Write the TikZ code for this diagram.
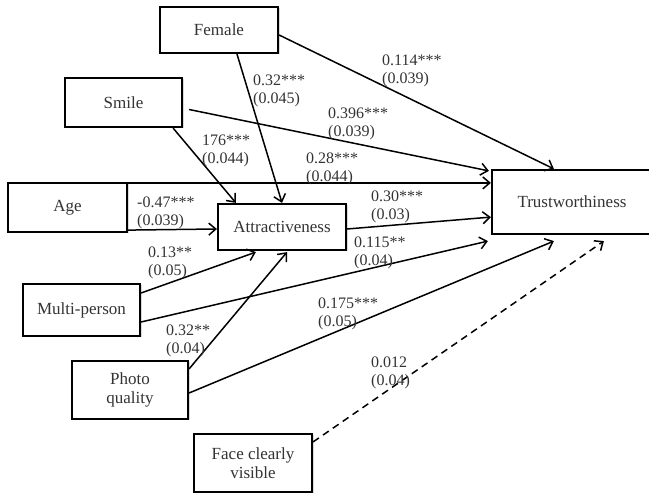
\documentclass[tikz,border=0pt]{standalone}
\usepackage{fontspec}
\setmainfont{Liberation Serif}
\usetikzlibrary{arrows.meta,shadows}
\begin{document}
\begin{tikzpicture}[x=1pt,y=-1pt,
    box/.style={draw,line width=2.2pt,fill=white,inner sep=0pt,align=center,
        text=black!80,font=\fontsize{17}{19.5}\selectfont,
        drop shadow={shadow xshift=1.5pt,shadow yshift=-1.5pt,opacity=0.3}},
    coef/.style={anchor=north west,inner sep=0pt,align=left,text=black!80,
        font=\fontsize{16}{18}\selectfont},
    effect/.style={-{Straight Barb[length=7pt,width=12pt]},line width=1.5pt}]
    \useasboundingbox (0,0) rectangle (649,494);
    % variables
    \node[box,minimum width=118pt,minimum height=46pt] (female) at (219,30) {Female};
    \node[box,minimum width=117pt,minimum height=49pt] (smile) at (123.5,102.5) {Smile};
    \node[box,minimum width=119pt,minimum height=49pt] (age) at (67.5,207.5) {Age};
    \node[box,minimum width=128pt,minimum height=46pt] (attr) at (282,227) {Attractiveness};
    \node[box,minimum width=160pt,minimum height=64pt] (trust) at (572,202) {Trustworthiness};
    \node[box,minimum width=117pt,minimum height=52pt] (multi) at (81.5,310) {Multi-person};
    \node[box,minimum width=116pt,minimum height=58pt] (photo) at (130,390) {Photo\\quality};
    \node[box,minimum width=118pt,minimum height=58pt] (face) at (253,463) {Face clearly\\visible};
    % paths to attractiveness
    \draw[effect] ([xshift=18pt]female.south) -- (attr.north);
    \draw[effect] ([xshift=-10pt]smile.south east) -- ([xshift=19pt]attr.north west);
    \draw[effect] ([yshift=3pt]age.south east) -- ([yshift=-2pt]attr.west);
    \draw[effect] ([yshift=17pt]multi.east) -- ([xshift=39pt,yshift=-1pt]attr.south west);
    \draw[effect] ([yshift=-9pt]photo.north east) -- ([xshift=5pt,yshift=-1pt]attr.south);
    % paths to trustworthiness
    \draw[effect] ([yshift=-5pt]female.east) -- ([xshift=63pt]trust.north west);
    \draw[effect] ([xshift=6pt,yshift=-7pt]smile.east) -- ([xshift=-2pt,yshift=-2pt]trust.north west);
    \draw[effect] ([yshift=-1pt]age.north east) -- ([yshift=-14pt]trust.north west);
    \draw[effect] ([yshift=-2pt]attr.east) -- ([yshift=18pt]trust.south west);
    \draw[effect] ([yshift=-12pt]multi.east) -- ([xshift=-3pt,yshift=-6pt]trust.south west);
    \draw[effect] ([yshift=-3pt]photo.east) -- ([xshift=63pt,yshift=-6pt]trust.south west);
    \draw[effect,dash pattern=on 7pt off 5pt] ([yshift=-9pt]face.north east) -- ([xshift=113pt,yshift=-6pt]trust.south west);
    % coefficients
    \node[coef] (cFT) at (382,55) {0.114***\\(0.039)};
    \node[coef] (cFA) at (253,75) {0.32***\\(0.045)};
    \node[coef] (cST) at (328,108) {0.396***\\(0.039)};
    \node[coef] (cSA) at (202,135) {176***\\(0.044)};
    \node[coef] (cAgT) at (306,153) {0.28***\\(0.044)};
    \node[coef] (cAgA) at (137,197) {-0.47***\\(0.039)};
    \node[coef] (cAT) at (371,191) {0.30***\\(0.03)};
    \node[coef] (cMA) at (148,247) {0.13**\\(0.05)};
    \node[coef] (cMT) at (354,237) {0.115**\\(0.04)};
    \node[coef] (cPA) at (166,325) {0.32**\\(0.04)};
    \node[coef] (cPT) at (318,298) {0.175***\\(0.05)};
    \node[coef] (cFcT) at (371,357) {0.012\\(0.04)};
\end{tikzpicture}
\end{document}
